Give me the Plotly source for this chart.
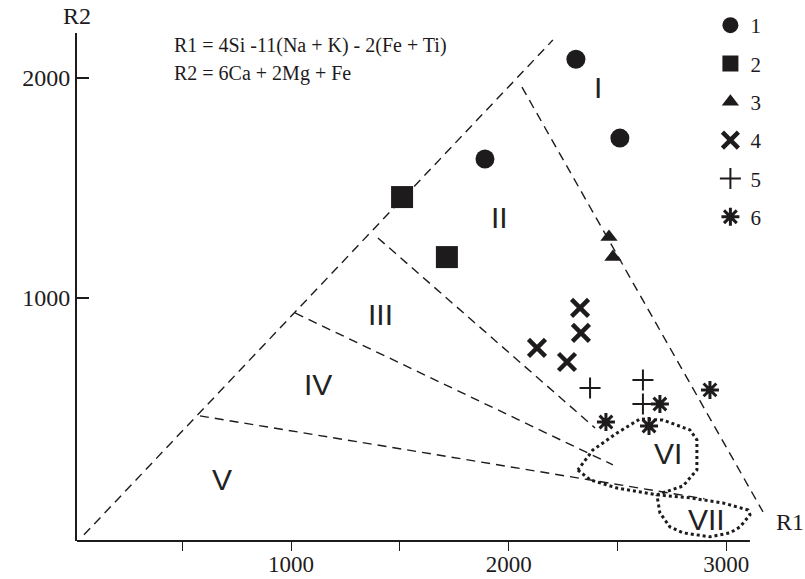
import plotly.graph_objects as go

# ---------------- data ----------------
groups = ["1", "2", "3", "4", "5", "6"]
g1_r1 = [2309, 2511, 1891]
g1_r2 = [2086, 1727, 1632]
g2_r1 = [1510, 1716]
g2_r2 = [1459, 1186]
g3_r1 = [2461, 2479]
g3_r2 = [1277, 1186]
g4_r1 = [2328, 2332, 2130, 2268]
g4_r2 = [955, 841, 773, 709]
g5_r1 = [2374, 2617, 2617]
g5_r2 = [591, 627, 518]
g6_r1 = [2695, 2447, 2645, 2925]
g6_r2 = [518, 436, 418, 582]

# field boundaries (dashed)
outer_r1 = [48, 2203]
outer_r2 = [-77, 2173]
b_I_II_r1 = [2061, 3169]
b_I_II_r2 = [1959, 27]
b_II_III_r1 = [1399, 2397]
b_II_III_r2 = [1273, 409]
b_III_IV_r1 = [1018, 2479]
b_III_IV_r2 = [932, 241]
b_IV_V_r1 = [581, 2900]
b_IV_V_r2 = [464, 87]

# dotted fields
vi_r1 = [2318, 2374, 2498, 2681, 2801, 2865, 2865, 2833, 2709, 2603, 2498, 2387, 2318]
vi_r2 = [218, 173, 136, 105, 145, 218, 355, 400, 445, 450, 386, 309, 218]
vii_r1 = [2681, 2833, 2985, 3100, 3109, 3063, 3017, 2925, 2801, 2741, 2695, 2681]
vii_r2 = [105, 91, 68, 36, 14, -41, -68, -86, -68, -41, 23, 105]

field_names = ["I", "II", "III", "IV", "V", "VI", "VII"]
field_r1 = [2411, 1960, 1409, 1124, 683, 2732, 2907]
field_r2 = [1955, 1364, 923, 605, 173, 295, -9]

x_tickvals = [500, 1000, 1500, 2000, 2500, 3000]
x_ticktext = ["", "1000", "", "2000", "", "3000"]
y_tickvals = [1000, 2000]
y_ticktext = ["1000", "2000"]

eq1 = "R1 = 4Si -11(Na + K) - 2(Fe + Ti)"
eq2 = "R2 = 6Ca + 2Mg + Fe"

# ---------------- style ----------------
INK = "#1e1b1c"
SERIF = "Liberation Serif, Times New Roman, serif"
SANS = "Liberation Sans, Arial, sans-serif"

fig = go.Figure()

dash = "9px,6px"
for xs, ys in [(outer_r1, outer_r2), (b_I_II_r1, b_I_II_r2), (b_II_III_r1, b_II_III_r2),
               (b_III_IV_r1, b_III_IV_r2), (b_IV_V_r1, b_IV_V_r2)]:
    fig.add_trace(go.Scatter(x=xs, y=ys, mode="lines", showlegend=False, hoverinfo="skip",
                             line=dict(color=INK, width=1.4, dash=dash)))

for xs, ys in [(vi_r1, vi_r2), (vii_r1, vii_r2)]:
    fig.add_trace(go.Scatter(x=xs, y=ys, mode="lines", showlegend=False, hoverinfo="skip",
                             line=dict(color=INK, width=3, dash="dot")))

series = [
    (g1_r1, g1_r2, dict(symbol="circle", size=19, color=INK)),
    (g2_r1, g2_r2, dict(symbol="square", size=22, color=INK)),
    (g3_r1, g3_r2, dict(symbol="triangle-up", size=15, color=INK)),
    (g4_r1, g4_r2, dict(symbol="x-thin-open", size=17, color=INK, line=dict(width=4.5, color=INK))),
    (g5_r1, g5_r2, dict(symbol="cross-thin-open", size=15, color=INK, line=dict(width=2, color=INK))),
    (g6_r1, g6_r2, dict(symbol="asterisk-open", size=15, color=INK, line=dict(width=3, color=INK))),
]
for name, (xs, ys, mk) in zip(groups, series):
    fig.add_trace(go.Scatter(x=xs, y=ys, mode="markers", name=name, legendgroup=name,
                             marker=mk, cliponaxis=False))

for t, xv, yv in zip(field_names, field_r1, field_r2):
    fig.add_annotation(x=xv, y=yv, text=t, showarrow=False,
                       font=dict(family=SANS, size=30, color="#222"))

fig.add_annotation(xref="paper", yref="paper", x=0.137, y=0.976, text=eq1, showarrow=False,
                   xanchor="left", yanchor="middle", font=dict(family=SERIF, size=20, color=INK))
fig.add_annotation(xref="paper", yref="paper", x=0.137, y=0.921, text=eq2, showarrow=False,
                   xanchor="left", yanchor="middle", font=dict(family=SERIF, size=20, color=INK))
fig.add_annotation(xref="paper", yref="paper", x=0.0, y=1.0, text="R2", showarrow=False,
                   xanchor="center", yanchor="bottom", yshift=2,
                   font=dict(family=SERIF, size=24, color=INK))
fig.add_annotation(xref="paper", yref="paper", x=1.029, y=0.037, text="R1", showarrow=False,
                   xanchor="center", yanchor="middle", font=dict(family=SERIF, size=24, color=INK))

# x axis line (ends short of the plotting area)
fig.add_shape(type="line", xref="x", yref="paper", x0=16, x1=3109, y0=0, y1=0,
              line=dict(color=INK, width=2))

fig.update_layout(
    width=805, height=579,
    margin=dict(l=77, r=35, t=33, b=38, autoexpand=False),
    paper_bgcolor="white", plot_bgcolor="white",
    legend=dict(x=0.914, y=1.055, xanchor="left", yanchor="top", bgcolor="rgba(0,0,0,0)",
                font=dict(family=SERIF, size=21, color=INK), tracegroupgap=8,
                itemsizing="trace"),
)
fig.update_xaxes(range=[16, 3201], showline=False, showgrid=False, zeroline=False,
                 automargin=False,
                 tickvals=x_tickvals, ticktext=x_ticktext, ticks="outside", ticklen=9,
                 tickwidth=1.3, tickcolor=INK, ticklabelstandoff=-7,
                 tickfont=dict(family=SERIF, size=23, color=INK))
fig.update_yaxes(range=[-105, 2205], showline=True, linecolor=INK, linewidth=2,
                 showgrid=False, zeroline=False, automargin=False,
                 tickvals=y_tickvals, ticktext=y_ticktext, ticks="inside", ticklen=12,
                 tickwidth=1.5, tickcolor=INK,
                 tickfont=dict(family=SERIF, size=24, color=INK))

fig.write_html("out.html", config={"displayModeBar": False},
               post_script="document.body.style.margin='0';")
